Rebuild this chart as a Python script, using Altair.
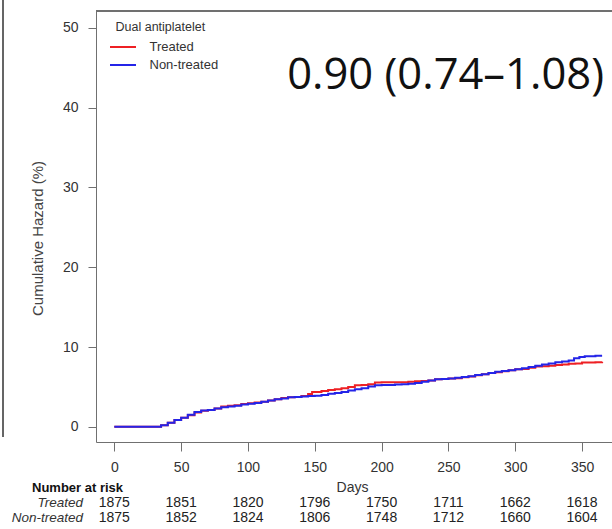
import altair as alt
import pandas as pd

# ---- data ----
groups = ["Treated", "Non-treated"]
colors = ["#ee2024", "#2424e8"]

days_treated = [0, 31, 35, 40, 45, 50, 55, 60, 65, 70, 75, 80, 85, 90, 95, 100, 105, 110, 115, 120,
                125, 130, 135, 140, 145, 148, 155, 160, 165, 170, 175, 180, 185, 190, 195, 200, 210,
                215, 220, 225, 230, 235, 240, 245, 250, 255, 260, 265, 270, 275, 280, 285, 290, 295,
                300, 305, 310, 315, 320, 325, 330, 335, 340, 345, 350, 355, 360, 365]
haz_treated = [0, 0, 0.2, 0.5, 0.85, 1.15, 1.45, 1.8, 2.0, 2.1, 2.3, 2.55, 2.65, 2.7, 2.85, 2.95, 3.05,
               3.15, 3.3, 3.45, 3.6, 3.7, 3.75, 3.85, 4.1, 4.35, 4.5, 4.6, 4.7, 4.85, 5.0, 5.2, 5.25,
               5.35, 5.55, 5.6, 5.6, 5.6, 5.65, 5.7, 5.75, 5.8, 5.95, 6.0, 6.05, 6.1, 6.2, 6.3, 6.45,
               6.6, 6.75, 6.85, 6.95, 7.1, 7.2, 7.25, 7.4, 7.55, 7.6, 7.65, 7.75, 7.8, 7.9, 7.95, 8.05,
               8.05, 8.1, 8.15]

days_nontreated = [0, 31, 35, 40, 45, 50, 55, 60, 65, 70, 75, 80, 85, 90, 95, 100, 105, 110, 115, 120,
                   125, 130, 135, 140, 145, 150, 155, 160, 165, 170, 175, 180, 185, 190, 195, 200, 205,
                   210, 215, 220, 225, 230, 235, 240, 245, 250, 255, 260, 265, 270, 275, 280, 285, 290,
                   295, 300, 305, 310, 315, 320, 325, 330, 335, 340, 344, 348, 352, 360, 365]
haz_nontreated = [0, 0, 0.2, 0.5, 0.85, 1.15, 1.5, 1.85, 2.05, 2.1, 2.3, 2.45, 2.55, 2.65, 2.8, 2.9, 3.0,
                  3.15, 3.3, 3.45, 3.55, 3.7, 3.75, 3.8, 3.85, 3.9, 4.0, 4.15, 4.25, 4.35, 4.55, 4.7,
                  4.85, 5.05, 5.2, 5.25, 5.25, 5.3, 5.35, 5.4, 5.5, 5.65, 5.8, 5.95, 6.0, 6.05, 6.15,
                  6.25, 6.35, 6.5, 6.6, 6.75, 6.9, 7.0, 7.1, 7.2, 7.35, 7.5, 7.65, 7.8, 7.95, 8.1, 8.2,
                  8.3, 8.6, 8.75, 8.85, 8.9, 8.9]

risk_days = [0, 50, 100, 150, 200, 250, 300, 350]
risk_treated = [1875, 1851, 1820, 1796, 1750, 1711, 1662, 1618]
risk_nontreated = [1875, 1852, 1824, 1806, 1748, 1712, 1660, 1604]

x_ticks = [0, 50, 100, 150, 200, 250, 300, 350]
y_ticks = [0, 10, 20, 30, 40, 50]
hr_text = "0.90 (0.74\u20131.08)"

# ---- tables ----
df_t = pd.DataFrame({"day": days_treated, "hazard": haz_treated, "group": groups[0]})
df_n = pd.DataFrame({"day": days_nontreated, "hazard": haz_nontreated, "group": groups[1]})
df_risk_t = pd.DataFrame({"day": risk_days, "n": risk_treated})
df_risk_n = pd.DataFrame({"day": risk_days, "n": risk_nontreated})

W, H = 516, 431
FONT = "Liberation Sans"
BOX = "#707070"

x_enc = alt.X(
    "day:Q",
    scale=alt.Scale(domain=[-13.7, 372.4], nice=False, zero=False),
    axis=alt.Axis(values=x_ticks, tickSize=9, labelPadding=9, labelFontSize=14, labelColor="#333",
                  labelFont=FONT, labelFlush=False, labelOverlap=False, grid=False,
                  domainColor=BOX, tickColor=BOX, title="Days", titleFont=FONT, titleFontSize=14,
                  titleFontWeight="normal", titleColor="#333", titleX=256, titleY=45,
                  titleBaseline="middle", titleAlign="center"),
)
y_enc = alt.Y(
    "hazard:Q",
    scale=alt.Scale(domain=[-1.9, 52.1], nice=False, zero=False),
    axis=alt.Axis(values=y_ticks, tickSize=8, labelPadding=10, labelFontSize=14, labelColor="#333",
                  labelFont=FONT, grid=False, domainColor=BOX, tickColor=BOX,
                  title="Cumulative Hazard (%)", titleFont=FONT, titleFontSize=15,
                  titleFontWeight="normal", titleColor="#444", titleX=-59, titleY=227,
                  titleBaseline="middle", titleAlign="center"),
)
# line-shaped legend symbol: 26 px long drawn on a 13 px symbol slot
color_enc = alt.Color(
    "group:N",
    scale=alt.Scale(domain=groups, range=colors),
    legend=alt.Legend(orient="none", legendX=19.5, legendY=10, title="Dual antiplatelet",
                      titleFont=FONT, titleFontSize=12.5, titleFontWeight="normal", titleColor="#333",
                      titlePadding=6, labelFont=FONT, labelFontSize=13, labelColor="#333",
                      symbolType="M-2,0L2,0", symbolSize=169, symbolStrokeWidth=2,
                      labelOffset=19, rowPadding=3, padding=0),
)

line_t = alt.Chart(df_t).mark_line(interpolate="step-after", strokeWidth=2).encode(
    x=x_enc, y=y_enc, color=color_enc)
line_n = alt.Chart(df_n).mark_line(interpolate="step-after", strokeWidth=2).encode(
    x=x_enc, y=y_enc, color=color_enc)

top_border = alt.Chart(df_t).mark_rule(color=BOX, strokeWidth=1).encode(
    x=alt.value(0), x2=alt.value(W), y=alt.value(0))
neighbor_border = alt.Chart(df_t).mark_rule(color="#666", strokeWidth=1.2).encode(
    x=alt.value(-93), y=alt.value(-11), y2=alt.value(426))

hr = alt.Chart(pd.DataFrame({"t": [hr_text]})).mark_text(
    font="Open Sans", fontSize=43.5, align="right", baseline="alphabetic", color="#111").encode(
    text="t:N", x=alt.value(508), y=alt.value(78))

risk_head = alt.Chart(pd.DataFrame({"t": ["Number at risk"]})).mark_text(
    font=FONT, fontSize=13, fontWeight="bold", align="left", baseline="middle", color="#111").encode(
    text="t:N", x=alt.value(-64), y=alt.value(477))

lab_t = alt.Chart(pd.DataFrame({"t": [groups[0]]})).mark_text(
    font=FONT, fontSize=13.5, fontStyle="italic", align="right", baseline="middle", color="#333").encode(
    text="t:N", x=alt.value(-13), y=alt.value(492))
lab_n = alt.Chart(pd.DataFrame({"t": [groups[1]]})).mark_text(
    font=FONT, fontSize=13.5, fontStyle="italic", align="right", baseline="middle", color="#333").encode(
    text="t:N", x=alt.value(-13), y=alt.value(507))

num_t = alt.Chart(df_risk_t).mark_text(
    font=FONT, fontSize=14, align="center", baseline="middle", color="#222").encode(
    x=x_enc, text="n:Q", y=alt.value(492))
num_n = alt.Chart(df_risk_n).mark_text(
    font=FONT, fontSize=14, align="center", baseline="middle", color="#222").encode(
    x=x_enc, text="n:Q", y=alt.value(507))

chart = alt.layer(
    line_t, line_n, top_border, neighbor_border, hr, risk_head, lab_t, lab_n, num_t, num_n
).properties(
    width=W, height=H,
    autosize=alt.AutoSizeParams(type="none"),
    padding={"left": 96, "top": 11, "right": 0, "bottom": 87},
    background="white",
).configure_view(stroke=None)

chart.save("out.html", embed_options={"renderer": "svg", "actions": False})
